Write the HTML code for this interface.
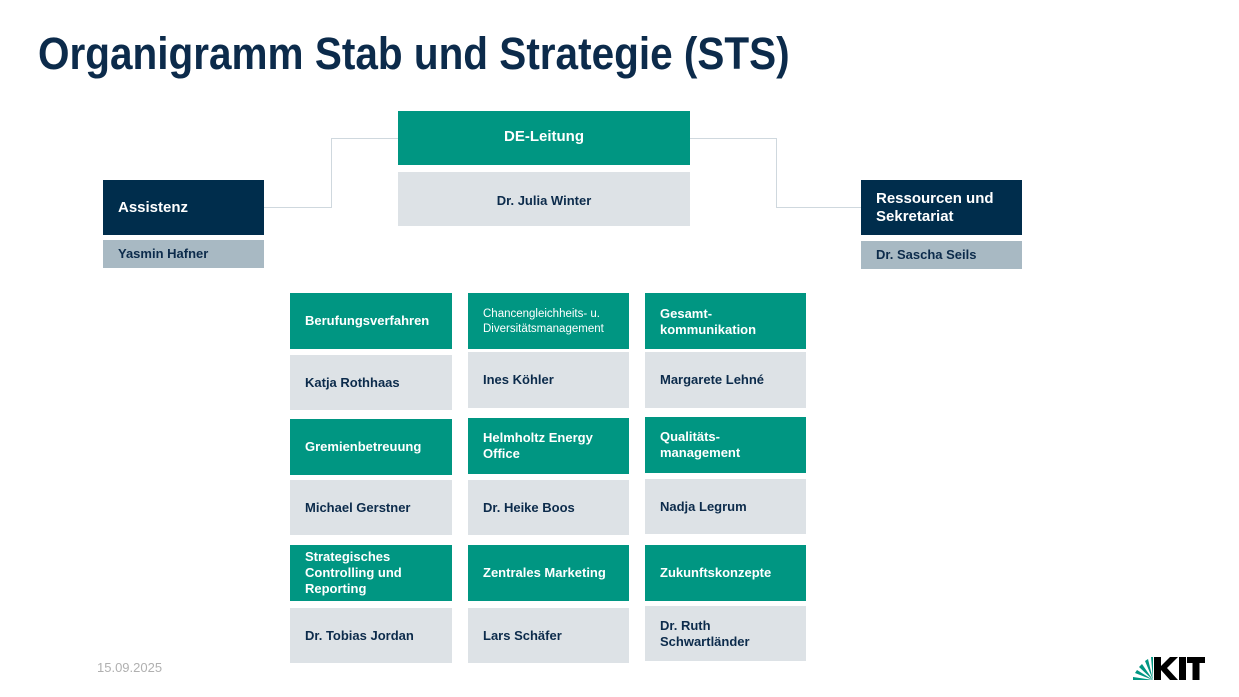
<!DOCTYPE html>
<html><head><meta charset="utf-8"><style>
body{margin:0;width:1239px;height:697px;background:#fff;position:relative;overflow:hidden;font-family:"Liberation Sans",Arial,sans-serif;}
.t{position:absolute;left:38px;top:28px;font-size:45px;font-weight:bold;color:#0c2b4b;white-space:nowrap;transform-origin:0 0;transform:scaleX(0.90);letter-spacing:0px}
.b{position:absolute;display:flex;align-items:center;box-sizing:border-box;padding-left:15px;font-weight:bold;font-size:13px;line-height:16px;color:#0c2b4b}
.g{background:#009682;color:#fff}
.l{background:#dde2e6}
.n{background:#002d4c;color:#fff;font-size:15px;line-height:18px}
.s{background:#a8b9c3}
.ln{position:absolute;background:#cfd8de}
</style></head><body>
<div class="t">Organigramm Stab und Strategie (STS)</div>

<div class="ln" style="left:264px;top:207px;width:67px;height:1px"></div>
<div class="ln" style="left:331px;top:138px;width:1px;height:70px"></div>
<div class="ln" style="left:331px;top:138px;width:67px;height:1px"></div>
<div class="ln" style="left:690px;top:138px;width:86px;height:1px"></div>
<div class="ln" style="left:776px;top:138px;width:1px;height:70px"></div>
<div class="ln" style="left:776px;top:207px;width:85px;height:1px"></div>

<div class="b g" style="left:398px;top:111px;width:292px;height:54px;justify-content:center;padding:0 0 2px;font-size:15px">DE-Leitung</div>
<div class="b l" style="left:398px;top:172px;width:292px;height:54px;justify-content:center;padding:0 0 6px;align-items:flex-start;padding-top:21px">Dr. Julia Winter</div>

<div class="b n" style="left:103px;top:180px;width:161px;height:55px">Assistenz</div>
<div class="b s" style="left:103px;top:240px;width:161px;height:28px">Yasmin Hafner</div>
<div class="b n" style="left:861px;top:180px;width:161px;height:55px">Ressourcen und<br>Sekretariat</div>
<div class="b s" style="left:861px;top:241px;width:161px;height:28px">Dr. Sascha Seils</div>

<div class="b g" style="left:290px;top:293px;width:162px;height:56px">Berufungsverfahren</div>
<div class="b l" style="left:290px;top:355px;width:162px;height:55px">Katja Rothhaas</div>
<div class="b g" style="left:468px;top:293px;width:161px;height:56px;font-size:11.5px;line-height:15px;font-weight:normal;align-items:flex-start;padding-top:14px">Chancengleichheits- u.<br>Diversitätsmanagement</div>
<div class="b l" style="left:468px;top:352px;width:161px;height:56px">Ines Köhler</div>
<div class="b g" style="left:645px;top:293px;width:161px;height:56px;align-items:flex-start;padding-top:13px">Gesamt-<br>kommunikation</div>
<div class="b l" style="left:645px;top:352px;width:161px;height:56px">Margarete Lehné</div>

<div class="b g" style="left:290px;top:419px;width:162px;height:56px">Gremienbetreuung</div>
<div class="b l" style="left:290px;top:480px;width:162px;height:55px">Michael Gerstner</div>
<div class="b g" style="left:468px;top:418px;width:161px;height:56px">Helmholtz Energy<br>Office</div>
<div class="b l" style="left:468px;top:480px;width:161px;height:55px">Dr. Heike Boos</div>
<div class="b g" style="left:645px;top:417px;width:161px;height:56px">Qualitäts-<br>management</div>
<div class="b l" style="left:645px;top:479px;width:161px;height:55px">Nadja Legrum</div>

<div class="b g" style="left:290px;top:545px;width:162px;height:56px">Strategisches<br>Controlling und<br>Reporting</div>
<div class="b l" style="left:290px;top:608px;width:162px;height:55px">Dr. Tobias Jordan</div>
<div class="b g" style="left:468px;top:545px;width:161px;height:56px">Zentrales Marketing</div>
<div class="b l" style="left:468px;top:608px;width:161px;height:55px">Lars Schäfer</div>
<div class="b g" style="left:645px;top:545px;width:161px;height:56px">Zukunftskonzepte</div>
<div class="b l" style="left:645px;top:606px;width:161px;height:55px">Dr. Ruth<br>Schwartländer</div>

<div style="position:absolute;left:97px;top:660px;font-size:13px;color:#b0b0b0">15.09.2025</div>

<svg style="position:absolute;left:1130px;top:652px" width="75" height="30" viewBox="0 0 75 30">
<g fill="#009682">
<path d="M23 28 L3 28 L3 25 Z"/>
<path d="M23 28 L5 21 L7 18 Z"/>
<path d="M23 28 L9 15 L12 12 Z"/>
<path d="M23 28 L15 9 L18 7 Z"/>
<path d="M23 28 L21 5 L23 5 Z"/>
</g>
<g fill="#000">
<path d="M24 5 H31 V14 L40 5 H48 L37 16 L48 28 H40 L31 18 V28 H24 Z"/>
<rect x="49" y="5" width="7" height="23"/>
<path d="M57 5 H75 V11 H69.5 V28 H62.5 V11 H57 Z"/>
</g>
</svg>
</body></html>
